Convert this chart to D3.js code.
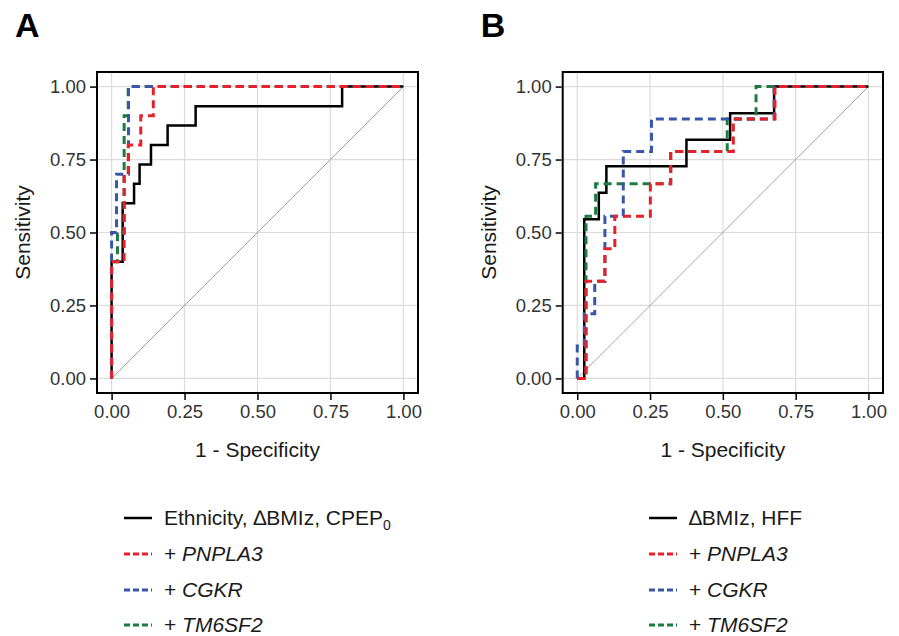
<!DOCTYPE html>
<html>
<head>
<meta charset="utf-8">
<script src="https://cdn.jsdelivr.net/npm/d3@7"></script>
<style>
  body { margin: 0; background: #fff; }
  text { font-family: "Liberation Sans", Arial, sans-serif; }
</style>
</head>
<body>
<div id="chart"></div>
<script>
// ROC points (1 - specificity, sensitivity)
// panel A
var fprA_base = [0, 0, 0.038, 0.077, 0.096, 0.135, 0.192, 0.288, 0.79, 1]
var tprA_base = [0, 0.4, 0.6, 0.667, 0.733, 0.8, 0.867, 0.933, 1, 1]
var fprA_pnpla3 = [0, 0, 0.043, 0.057, 0.1, 0.143, 1]
var tprA_pnpla3 = [0, 0.4, 0.7, 0.8, 0.9, 1, 1]
var fprA_cgkr = [0, 0, 0.017, 0.058, 1]
var tprA_cgkr = [0, 0.5, 0.7, 1, 1]
var fprA_tm6sf2 = [0, 0, 0.02, 0.043, 0.057, 1]
var tprA_tm6sf2 = [0, 0.4, 0.5, 0.9, 1, 1]
// panel B
var fprB_base = [0, 0.024, 0.074, 0.1, 0.375, 0.525, 0.676, 1]
var tprB_base = [0, 0.545, 0.636, 0.727, 0.818, 0.909, 1, 1]
var fprB_pnpla3 = [0, 0.03, 0.095, 0.129, 0.251, 0.321, 0.536, 0.679, 1]
var tprB_pnpla3 = [0, 0.333, 0.444, 0.556, 0.667, 0.778, 0.889, 1, 1]
var fprB_cgkr = [0, 0, 0.024, 0.06, 0.095, 0.158, 0.255, 0.676, 1]
var tprB_cgkr = [0, 0.111, 0.222, 0.333, 0.556, 0.778, 0.889, 1, 1]
var fprB_tm6sf2 = [0, 0.03, 0.063, 0.321, 0.515, 0.614, 1]
var tprB_tm6sf2 = [0, 0.556, 0.667, 0.778, 0.889, 1, 1]

var ticks = [0, 0.25, 0.5, 0.75, 1]
var legendA = ['Ethnicity, \u2206BMIz, CPEP', '+ ', '+ ', '+ ']
var legendB = ['\u2206BMIz, HFF', '+ ', '+ ', '+ ']
var genes = ['', 'PNPLA3', 'CGKR', 'TM6SF2']

var colors = ['#000000', '#e8202a', '#3a56a8', '#1b7c3f']
var fmt = d3.format('.2f')

var svg = d3.select('#chart').append('svg')
  .attr('width', 899)
  .attr('height', 636)

var y = d3.scaleLinear().domain([-0.05, 1.05]).range([393, 72])

function zip(fx, ty) {
  return fx.map((d, i) => [d, ty[i]])
}

function drawPanel(left, right, letter, curves, labels, keyX) {
  var x = d3.scaleLinear().domain([-0.05, 1.05]).range([left, right])
  var g = svg.append('g')

  // grid
  g.selectAll('.gx').data(ticks).enter().append('line')
    .attr('x1', d => x(d)).attr('x2', d => x(d))
    .attr('y1', y.range()[1]).attr('y2', y.range()[0])
    .attr('stroke', '#dcdcdc').attr('stroke-width', 1.2)
  g.selectAll('.gy').data(ticks).enter().append('line')
    .attr('y1', d => y(d)).attr('y2', d => y(d))
    .attr('x1', left).attr('x2', right)
    .attr('stroke', '#dcdcdc').attr('stroke-width', 1.2)

  // diagonal reference
  g.append('line')
    .attr('x1', x(0)).attr('y1', y(0)).attr('x2', x(1)).attr('y2', y(1))
    .attr('stroke', '#a0a0a0').attr('stroke-width', 1)

  var line = d3.line()
    .x(d => x(d[0])).y(d => y(d[1]))
    .curve(d3.curveStepAfter)

  // draw order: black, green, blue, red
  ;[0, 3, 2, 1].forEach(i => {
    g.append('path')
      .attr('d', line(curves[i]))
      .attr('fill', 'none')
      .attr('stroke', colors[i])
      .attr('stroke-width', i == 0 ? 2.5 : 3)
      .attr('stroke-dasharray', i == 0 ? null : '8,5')
  })

  // box
  g.append('rect')
    .attr('x', left).attr('y', 72)
    .attr('width', right - left).attr('height', 393 - 72)
    .attr('fill', 'none').attr('stroke', '#000').attr('stroke-width', 2)

  var xAxis = g.append('g')
    .attr('transform', 'translate(0,394)')
    .call(d3.axisBottom(x).tickValues(ticks).tickFormat(fmt).tickSize(6).tickPadding(5))
  var yAxis = g.append('g')
    .attr('transform', 'translate(' + (left - 1) + ',0)')
    .call(d3.axisLeft(y).tickValues(ticks).tickFormat(fmt).tickSize(6).tickPadding(4))
  ;[xAxis, yAxis].forEach(a => {
    a.select('.domain').remove()
    a.selectAll('.tick line').attr('stroke', '#000').attr('stroke-width', 1.5)
    a.selectAll('.tick text').attr('fill', '#333').style('font-size', '18.5px')
      .style('font-family', '"Liberation Sans", Arial, sans-serif')
  })

  g.append('text')
    .attr('x', x(0.5)).attr('y', 457)
    .attr('text-anchor', 'middle')
    .attr('fill', '#1a1a1a')
    .style('font-size', '21px')
    .text('1 - Specificity')

  g.append('text')
    .attr('transform', 'translate(' + (left - 67) + ',' + y(0.5) + ') rotate(-90)')
    .attr('text-anchor', 'middle')
    .attr('fill', '#1a1a1a')
    .style('font-size', '21px')
    .text('Sensitivity')

  g.append('text')
    .attr('x', left - 82).attr('y', 37)
    .style('font-size', '34px').style('font-weight', 'bold')
    .text(letter)

  // legend
  var rows = [518, 554, 590, 625]
  rows.forEach((ry, i) => {
    g.append('line')
      .attr('x1', keyX).attr('x2', keyX + 28)
      .attr('y1', ry).attr('y2', ry)
      .attr('stroke', colors[i])
      .attr('stroke-width', i == 0 ? 2.5 : 3)
      .attr('stroke-dasharray', i == 0 ? null : '6,3')
    var t = g.append('text')
      .attr('x', keyX + 40).attr('y', ry + 7)
      .attr('fill', '#1a1a1a')
      .style('font-size', '21px')
    t.append('tspan').text(labels[i])
    if (i > 0) t.append('tspan').style('font-style', 'italic').text(genes[i])
    if (i == 0 && letter == 'A') {
      t.append('tspan').attr('dy', 5).style('font-size', '14px').text('0')
    }
  })
}

drawPanel(97, 418, 'A', [
  zip(fprA_base, tprA_base), zip(fprA_pnpla3, tprA_pnpla3),
  zip(fprA_cgkr, tprA_cgkr), zip(fprA_tm6sf2, tprA_tm6sf2)
], legendA, 124)

drawPanel(562.7, 883, 'B', [
  zip(fprB_base, tprB_base), zip(fprB_pnpla3, tprB_pnpla3),
  zip(fprB_cgkr, tprB_cgkr), zip(fprB_tm6sf2, tprB_tm6sf2)
], legendB, 649)
</script>
</body>
</html>
